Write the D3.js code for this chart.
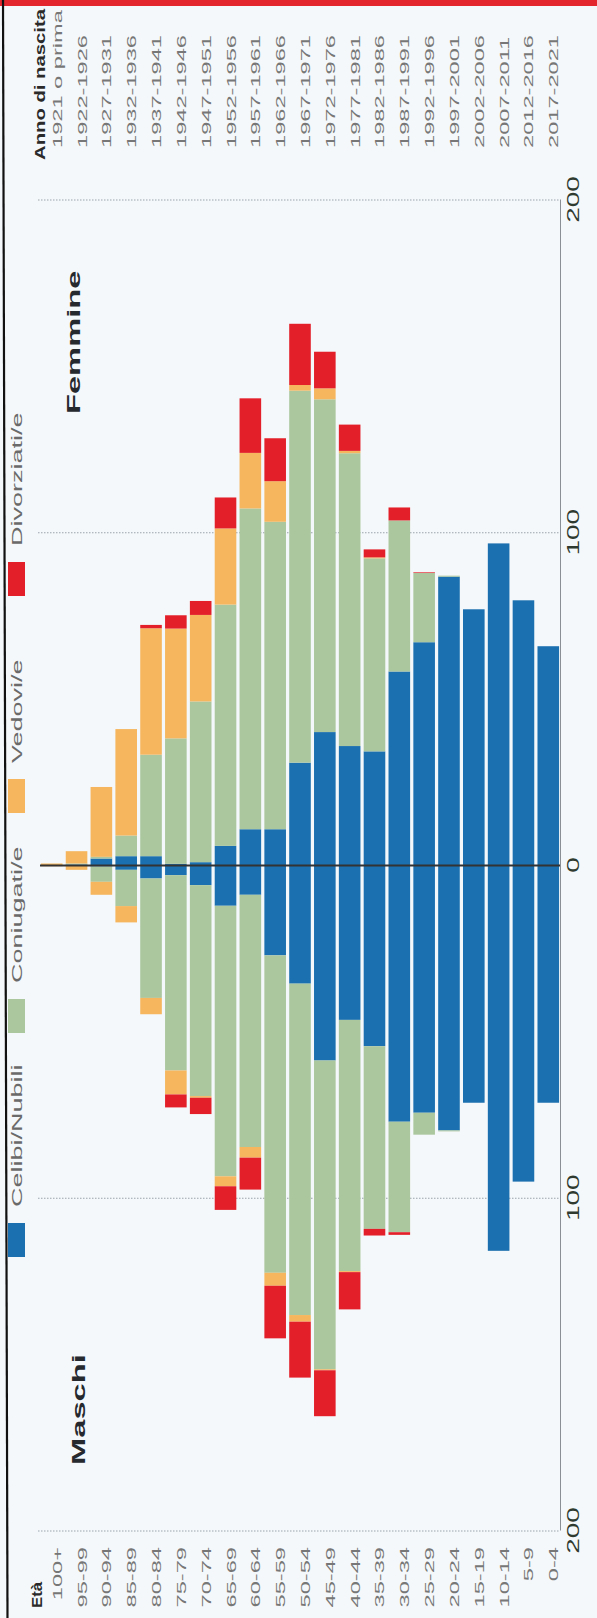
<!DOCTYPE html>
<html><head><meta charset="utf-8">
<script src="https://cdn.jsdelivr.net/npm/d3@7"></script>
<style>body{margin:0;background:#f5f8fa}svg{display:block}text{font-family:"Liberation Sans",Arial,Helvetica,sans-serif}</style>
</head><body>
<script>
// ---- data (thousands of people), age groups from oldest to youngest ----
const ages = ["100+","95-99","90-94","85-89","80-84","75-79","70-74","65-69","60-64","55-59","50-54","45-49","40-44","35-39","30-34","25-29","20-24","15-19","10-14","5-9","0-4"];
const birthYears = ["1921 o prima","1922-1926","1927-1931","1932-1936","1937-1941","1942-1946","1947-1951","1952-1956","1957-1961","1962-1966","1967-1971","1972-1976","1977-1981","1982-1986","1987-1991","1992-1996","1997-2001","2002-2006","2007-2011","2012-2016","2017-2021"];
const statusKeys = ["celibi","coniugati","vedovi","divorziati"];
const legendLabels = ["Celibi/Nubili","Coniugati/e","Vedovi/e","Divorziati/e"];
const tickValues = [-200,-100,0,100,200];

const maschiCelibi     = [0,0,0.3,1.3,3.9,2.9,5.9,12.1,8.8,27,35.5,58.6,46.4,54.3,77,74.3,79.6,71.3,115.8,95,71.3];
const maschiConiugati  = [0,0,4.6,10.9,35.9,58.7,63.4,81.3,75.8,95.4,99.6,92.8,75.5,54.9,33.2,6.6,0.3,0,0,0,0];
const maschiVedovi     = [0.2,1.3,3.9,4.9,4.9,7.2,0.5,3,3.2,3.9,2,0.3,0.3,0,0,0,0,0,0,0,0];
const maschiDivorziati = [0,0,0,0,0,3.9,4.9,7.1,9.6,15.8,16.8,13.8,11.2,2,0.8,0,0,0,0,0,0];

const femmineNubili     = [0.1,0.3,2.1,2.8,2.8,0.5,1,5.9,10.9,10.9,30.9,40.1,35.9,34.3,58.3,67.1,86.8,77,96.8,79.7,65.9];
const femmineConiugate  = [0,0.3,0.5,6.2,30.5,37.7,48.3,72.5,96.4,92.4,111.8,100,88,58,45.4,20.8,0.3,0,0,0,0];
const femmineVedove     = [0.5,3.7,21,32,38,33,26,22.9,16.7,12.2,1.7,3.3,0.7,0.3,0,0,0,0,0,0,0];
const femmineDivorziate = [0,0,0,0,1,4,4.2,9.3,16.4,12.9,18.4,11,7.9,2.4,3.9,0.2,0,0,0,0,0];

const colors = {celibi:"#1b70b0",coniugati:"#abc79e",vedovi:"#f5b65e",divorziati:"#e3202a"};

// ---- layout: chart drawn in landscape, rotated -90deg into the portrait page ----
const PW = 597, PH = 1618;
const SX = 1.75; // horizontal text stretch of the original
const svg = d3.select("body").append("svg").attr("width",PW).attr("height",PH);
svg.append("rect").attr("width",PW).attr("height",PH).attr("fill","#f5f8fa");
const g = svg.append("g").attr("transform",`translate(0,${PH}) rotate(-90)`);
// inside g: X along 0..1618, Y along 0..597

const x = d3.scaleLinear().domain([-200,200]).range([87,1418]);
const y = d3.scaleBand().domain(ages).range([39.3,560.7]).paddingInner(0.13).paddingOuter(0.065);

function rows(a,b,c,d){return ages.map((age,i)=>({age,celibi:a[i],coniugati:b[i],vedovi:c[i],divorziati:d[i]}));}
const stack = d3.stack().keys(statusKeys);
const mS = stack(rows(maschiCelibi,maschiConiugati,maschiVedovi,maschiDivorziati));
const fS = stack(rows(femmineNubili,femmineConiugate,femmineVedove,femmineDivorziate));

function txt(parent,X,Y,s,o){
  return parent.append("text").attr("transform",`translate(${X},${Y}) scale(${o.sx||SX},1)`)
    .attr("text-anchor",o.anchor||"start").attr("font-size",o.fs||14)
    .attr("font-weight",o.bold?"bold":"normal").attr("fill",o.fill||"#777").text(s);
}

// top red strip and left black rule
g.append("rect").attr("x",1612).attr("y",0).attr("width",10).attr("height",PW).attr("fill","#e3262e");
g.append("line").attr("x1",0).attr("x2",1618).attr("y1",7.5).attr("y2",3).attr("stroke","#111").attr("stroke-width",2.2);

// gridlines
const grid = g.append("g");
[-200,-100,100,200].forEach(v=>{
  grid.append("line").attr("x1",x(v)).attr("x2",x(v)).attr("y1",38).attr("y2",560)
    .attr("stroke","#9aa3ad").attr("stroke-width",1.1).attr("stroke-dasharray","1.5,1.5");
});

// bars
function drawSide(series,sign){
  g.append("g").selectAll("g").data(series).join("g").attr("fill",s=>colors[s.key])
    .selectAll("rect").data(s=>s.filter(d=>d[1]-d[0]>0)).join("rect")
    .attr("x",d=>sign>0?x(d[0]):x(-d[1]))
    .attr("width",d=>Math.abs(x(d[1])-x(d[0])))
    .attr("y",d=>y(d.data.age)).attr("height",y.bandwidth());
}
drawSide(mS,-1);
drawSide(fS,1);

// zero line
g.append("line").attr("x1",x(0)).attr("x2",x(0)).attr("y1",40).attr("y2",560).attr("stroke","#333").attr("stroke-width",2);

// value axis
const axis = g.append("g").attr("transform","translate(0,560)")
  .call(d3.axisBottom(x).tickValues(tickValues).tickSize(0).tickPadding(8).tickFormat(d=>Math.abs(d)));
axis.select(".domain").attr("stroke","#8a8f96").attr("stroke-width",1);
axis.selectAll("text").attr("font-size",16).attr("fill","#2e3a30")
  .attr("font-family","Liberation Sans, Arial, sans-serif")
  .attr("transform",`scale(${SX},1)`);

// age labels
txt(g,10,42,"Età",{bold:true,fs:14,fill:"#2a2a2a",sx:1.2});
ages.forEach(a=>txt(g,71,y(a)+y.bandwidth()/2+10,a,{anchor:"end",fs:13.5}));
// birth year labels
txt(g,1458,45,"Anno di nascita",{bold:true,fs:14,fill:"#2a2a2a",sx:1.45});
ages.forEach((a,i)=>txt(g,1470,y(a)+y.bandwidth()/2+10,birthYears[i],{fs:13.5}));

// sex titles
txt(g,153,85,"Maschi",{bold:true,fs:19,fill:"#26292e",sx:1.72});
txt(g,1204,80,"Femmine",{bold:true,fs:19,fill:"#26292e",sx:1.72});

// legend
const legX = [361,585,805,1022];
statusKeys.forEach((k,i)=>{
  g.append("rect").attr("x",legX[i]).attr("y",8).attr("width",34).attr("height",17).attr("fill",colors[k]);
  txt(g,legX[i]+50,22,legendLabels[i],{fs:15,fill:"#6a6a6a",sx:1.8});
});
</script>
</body></html>
